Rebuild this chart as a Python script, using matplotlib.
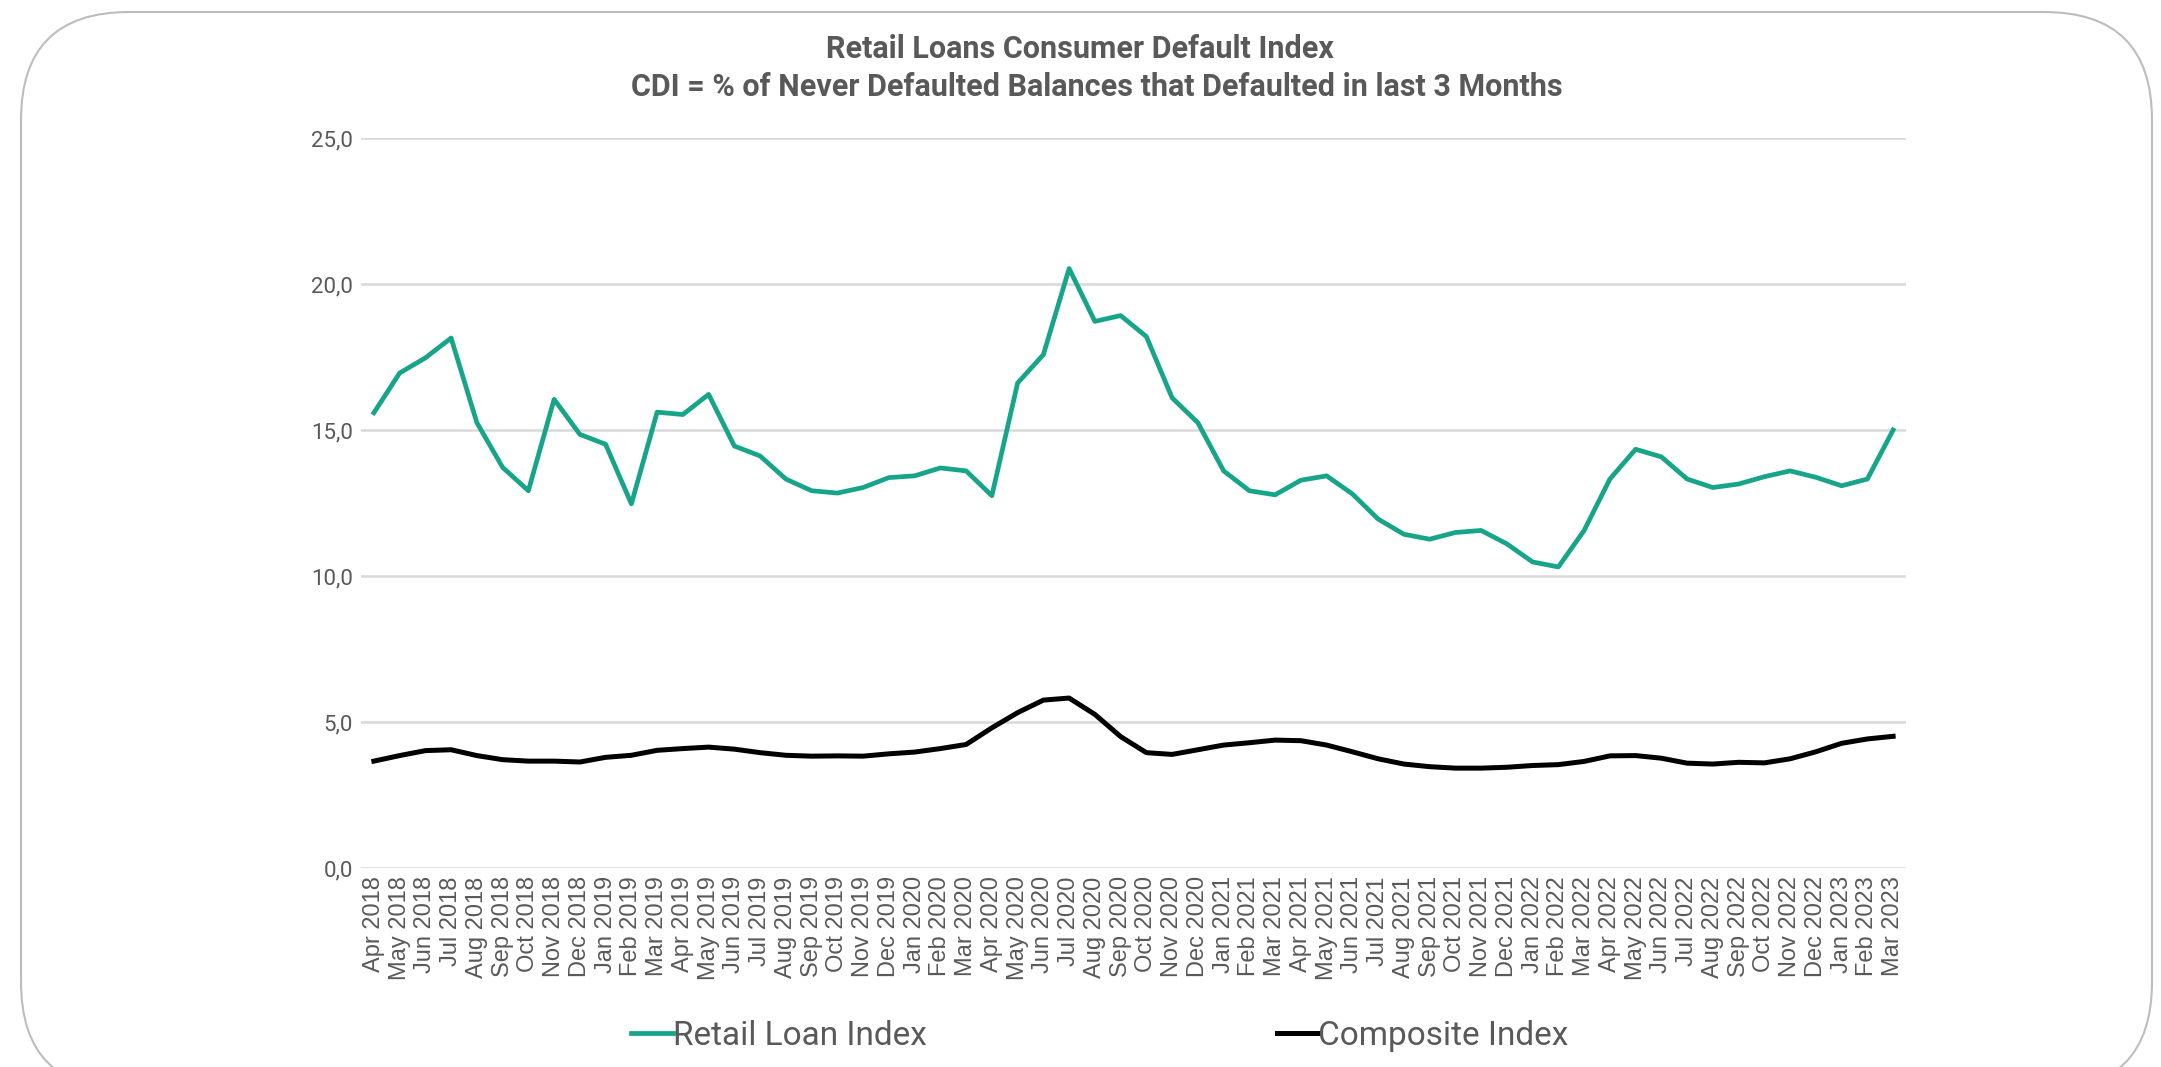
import matplotlib.pyplot as plt
from matplotlib.patches import FancyBboxPatch

# ===== ДАНІ =====
months = ['Apr', 'May', 'Jun', 'Jul', 'Aug', 'Sep', 'Oct', 'Nov', 'Dec', 'Jan', 'Feb', 'Mar']
labels = []
year = 2018
for k in range(60):
    m = months[k % 12]
    if m == 'Jan':
        year += 1
    labels.append(f"{m} {year}")

retail = [15.59, 16.95, 17.47, 18.15, 15.25, 13.72, 12.92, 16.05, 14.85, 14.51,
          12.47, 15.61, 15.53, 16.22, 14.45, 14.11, 13.32, 12.92, 12.84, 13.03,
          13.37, 13.43, 13.70, 13.60, 12.75, 16.61, 17.58, 20.53, 18.72, 18.92,
          18.20, 16.10, 15.25, 13.60, 12.92, 12.78, 13.28, 13.43, 12.81, 11.95,
          11.43, 11.26, 11.49, 11.56, 11.10, 10.48, 10.31, 11.56, 13.32, 14.34,
          14.08, 13.32, 13.03, 13.15, 13.40, 13.60, 13.38, 13.09, 13.32, 15.00]

composite = [3.66, 3.85, 4.02, 4.05, 3.85, 3.71, 3.66, 3.66, 3.63, 3.79,
             3.86, 4.03, 4.09, 4.14, 4.07, 3.95, 3.86, 3.83, 3.84, 3.83,
             3.91, 3.97, 4.09, 4.23, 4.80, 5.32, 5.75, 5.82, 5.26, 4.50,
             3.95, 3.89, 4.05, 4.21, 4.29, 4.38, 4.36, 4.21, 3.98, 3.74,
             3.56, 3.47, 3.42, 3.42, 3.45, 3.51, 3.54, 3.65, 3.84, 3.85,
             3.76, 3.59, 3.56, 3.62, 3.60, 3.74, 3.98, 4.27, 4.42, 4.51]

yticks = [0, 5, 10, 15, 20, 25]
ytick_labels = ['0,0', '5,0', '10,0', '15,0', '20,0', '25,0']

GREY = '#595959'
TEAL = '#16a589'

# ===== ГРАФІК =====
fig = plt.figure(figsize=(21.61, 10.67), dpi=100)
fig.patch.set_facecolor('white')

# рамка з заокругленими кутами
W, H = 2161, 1067
box = FancyBboxPatch((21 / W, 1 - 1090 / H), (2152 - 21) / W, (1090 - 12) / H,
                     boxstyle='round,pad=0,rounding_size=0.05',
                     transform=fig.transFigure, facecolor='none',
                     edgecolor='#bdbdbd', linewidth=1.5,
                     mutation_aspect=W / H)
fig.patches.append(box)

ax = fig.add_axes([361 / W, 1 - 868 / H, (1906 - 361) / W, (868 - 138) / H])
x = list(range(len(labels)))
ax.plot(x, retail, color=TEAL, linewidth=3.4, label='Retail Loan Index')
ax.plot(x, composite, color='black', linewidth=3.6, label='Composite Index')

ax.set_xlim(-0.5, 59.5)
ax.set_ylim(0, 25)
ax.set_yticks(yticks)
ax.set_yticklabels(ytick_labels, fontsize=16, color=GREY, family=['Roboto', 'DejaVu Sans'])
ax.set_xticks(x)
ax.set_xticklabels(labels, rotation=90, fontsize=17, color=GREY,
                   family=['Liberation Sans', 'DejaVu Sans'])
ax.tick_params(axis='both', length=0, pad=6)
ax.grid(axis='y', color='#d9d9d9', linewidth=1.8)
ax.set_axisbelow(True)
for s in ax.spines.values():
    s.set_visible(False)

fig.text(1080 / W, 1 - 49 / H, 'Retail Loans Consumer Default Index',
         ha='center', va='center', fontsize=22, fontweight='bold', color=GREY,
         family=['Roboto', 'DejaVu Sans'])
fig.text(1097 / W, 1 - 87 / H, 'CDI = % of Never Defaulted Balances that Defaulted in last 3 Months',
         ha='center', va='center', fontsize=22, fontweight='bold', color=GREY,
         family=['Roboto', 'DejaVu Sans'])

leg = fig.legend(loc='center', bbox_to_anchor=(1100 / W, 1 - 1036 / H), ncol=2,
                 frameon=False, handlelength=1.25, handletextpad=0.0,
                 columnspacing=10.5,
                 prop={'family': ['Roboto', 'DejaVu Sans'], 'size': 24})
for t in leg.get_texts():
    t.set_color(GREY)

plt.savefig('out.png', dpi=100)
